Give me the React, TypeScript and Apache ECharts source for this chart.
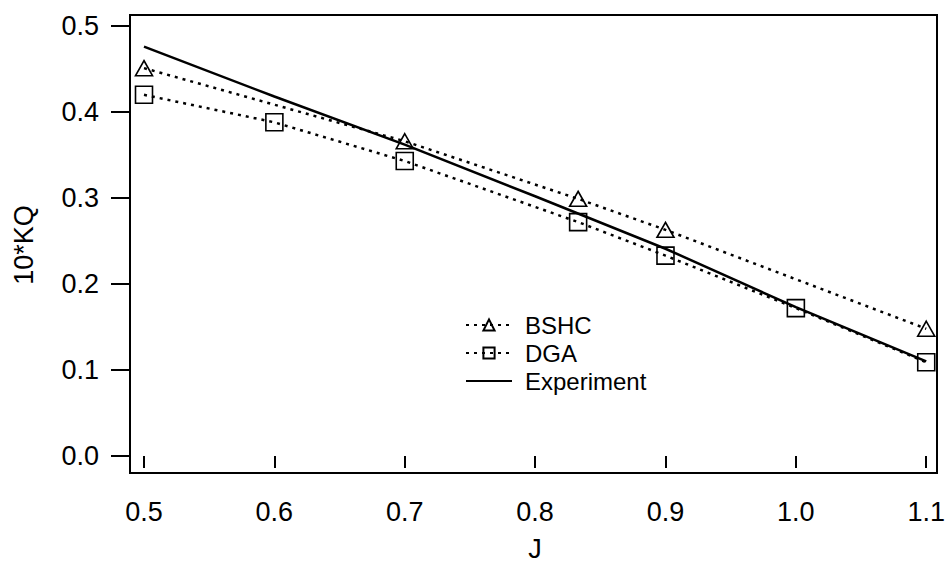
import React, { useEffect, useRef } from "react";
import * as echarts from "echarts";

const bshcJ = [0.5, 0.7, 0.833, 0.9, 1.1];
const bshcKQ = [0.451, 0.366, 0.299, 0.263, 0.148];

const dgaJ = [0.5, 0.6, 0.7, 0.833, 0.9, 1.0, 1.1];
const dgaKQ = [0.42, 0.388, 0.343, 0.272, 0.233, 0.172, 0.109];

const expJ = [0.5, 0.6, 0.7, 0.8, 0.9, 1.0, 1.1];
const expKQ = [0.476, 0.418, 0.362, 0.302, 0.241, 0.173, 0.11];

const xTicks = [0.5, 0.6, 0.7, 0.8, 0.9, 1.0, 1.1];
const yTicks = [0.0, 0.1, 0.2, 0.3, 0.4, 0.5];

const FONT = "'Liberation Sans', Arial, Helvetica, sans-serif";
const FS = 27;

export default function App() {
  const ref = useRef<HTMLDivElement>(null);
  useEffect(() => {
    if (!ref.current) return;
    const chart = echarts.init(ref.current, undefined, { renderer: "svg" });
    const pair = (xs: number[], ys: number[]) => xs.map((x, i) => [x, ys[i]]);
    const hollow = { color: "rgba(0,0,0,0)", borderColor: "#000", borderWidth: 1.6 };
    chart.setOption({
      animation: false,
      backgroundColor: "#fff",
      textStyle: { fontFamily: FONT, color: "#000" },
      grid: { left: 144, right: 21, top: 26, bottom: 104, containLabel: false },
      xAxis: {
        type: "value",
        min: xTicks[0],
        max: xTicks[xTicks.length - 1],
        interval: 0.1,
        offset: 10,
        name: "J",
        nameLocation: "middle",
        nameGap: 69,
        nameTextStyle: { fontSize: FS, fontFamily: FONT, color: "#000" },
        axisLine: { show: false },
        axisTick: { show: true, length: 12, lineStyle: { color: "#000", width: 2 } },
        axisLabel: {
          fontSize: FS,
          fontFamily: FONT,
          color: "#000",
          margin: 32,
          formatter: (v: number) => v.toFixed(1),
        },
        splitLine: { show: false },
      },
      yAxis: {
        type: "value",
        min: yTicks[0],
        max: yTicks[yTicks.length - 1],
        interval: 0.1,
        offset: 14,
        axisLine: { show: false },
        axisTick: { show: true, length: 19, lineStyle: { color: "#000", width: 2 } },
        axisLabel: {
          fontSize: FS,
          fontFamily: FONT,
          color: "#000",
          margin: 31,
          formatter: (v: number) => v.toFixed(1),
        },
        splitLine: { show: false },
      },
      legend: {
        orient: "vertical",
        left: 465,
        top: 313,
        padding: 0,
        itemGap: 4,
        itemWidth: 46,
        itemHeight: 14,
        textStyle: { fontSize: 24, lineHeight: 24, fontFamily: FONT, color: "#000", padding: [0, 0, 0, 8] },
        data: [
          { name: "BSHC" },
          { name: "DGA" },
          { name: "Experiment", itemStyle: { opacity: 0 } },
        ],
      },
      graphic: [
        {
          type: "rect",
          shape: { x: 130, y: 15, width: 807, height: 458 },
          style: { fill: "none", stroke: "#000", lineWidth: 2 },
          silent: true,
          z: 10,
        },
        {
          type: "text",
          x: 24,
          y: 245,
          rotation: Math.PI / 2,
          style: {
            text: "10*KQ",
            fontSize: FS,
            fontFamily: FONT,
            fill: "#000",
            align: "center",
            verticalAlign: "middle",
          },
        },
      ],
      series: [
        {
          name: "BSHC",
          type: "line",
          data: pair(bshcJ, bshcKQ),
          symbol: "triangle",
          symbolSize: [17, 15],
          clip: false,
          itemStyle: hollow,
          lineStyle: { color: "#000", width: 2.5, type: [3, 5] },
          z: 3,
        },
        {
          name: "DGA",
          type: "line",
          data: pair(dgaJ, dgaKQ),
          symbol: "rect",
          symbolSize: [17, 17],
          clip: false,
          itemStyle: hollow,
          lineStyle: { color: "#000", width: 2.5, type: [3, 5] },
          z: 3,
        },
        {
          name: "Experiment",
          type: "line",
          data: pair(expJ, expKQ),
          symbol: "none",
          clip: false,
          itemStyle: { color: "#000" },
          lineStyle: { color: "#000", width: 2.5, type: "solid" },
          z: 2,
        },
      ],
    });
    return () => chart.dispose();
  }, []);
  return <div ref={ref} style={{ width: 948, height: 567, position: "absolute", left: 0, top: 0 }} />;
}
